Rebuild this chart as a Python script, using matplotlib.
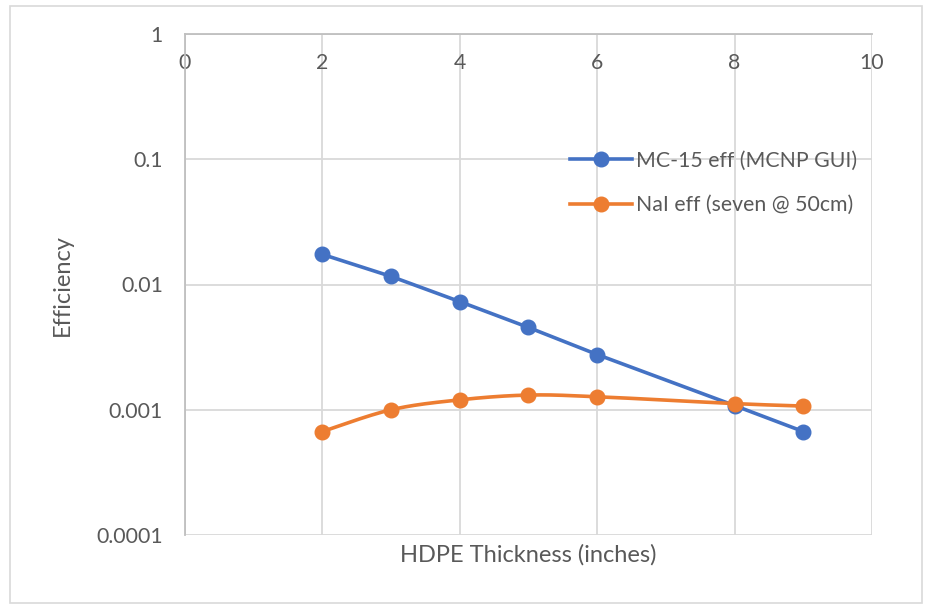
import numpy as np
import matplotlib.pyplot as plt
from matplotlib.patches import Rectangle

# ---------- data ----------
thickness = [2, 3, 4, 5, 6, 8, 9]
mc15_eff = [0.0174, 0.0116, 0.0073, 0.00454, 0.00276, 0.00108, 0.00067]
nai_eff = [0.00067, 0.00100, 0.00120, 0.00131, 0.00127, 0.00112, 0.00107]

x_ticks = [0, 2, 4, 6, 8, 10]
y_ticks = [0.0001, 0.001, 0.01, 0.1, 1]
y_tick_labels = ["0.0001", "0.001", "0.01", "0.1", "1"]

BLUE = "#4472C4"
ORANGE = "#ED7D31"
GRID = "#D9D9D9"
TEXT = "#595959"
FONT = "Lato"


def smooth_curve(x, y, n=40):
    """Excel-like smoothing: Catmull-Rom bezier in (x, log10 y) space."""
    pts = np.column_stack([np.asarray(x, float), np.log10(y)])
    padded = np.vstack([pts[0], pts, pts[-1]])
    out = []
    t = np.linspace(0, 1, n)[:, None]
    for i in range(len(pts) - 1):
        p0 = padded[i + 1]
        p3 = padded[i + 2]
        c1 = p0 + (padded[i + 2] - padded[i]) / 6.0
        c2 = p3 - (padded[i + 3] - padded[i + 1]) / 6.0
        seg = ((1 - t) ** 3) * p0 + 3 * ((1 - t) ** 2) * t * c1 \
            + 3 * (1 - t) * t ** 2 * c2 + t ** 3 * p3
        out.append(seg if i == 0 else seg[1:])
    out = np.vstack(out)
    return out[:, 0], 10 ** out[:, 1]


fig = plt.figure(figsize=(9.29, 6.05), dpi=100)
fig.patches.append(Rectangle((10 / 929, 1 - 603 / 605), 912 / 929, 597 / 605,
                             transform=fig.transFigure, fill=False,
                             edgecolor=GRID, linewidth=1.2))

ax = fig.add_axes([185 / 929, 1 - 535 / 605, 687 / 929, 501 / 605])
ax.set_yscale("log")
ax.set_xlim(0, 10)
ax.set_ylim(0.0001, 1)

ax.grid(True, which="major", color=GRID, linewidth=1.3)
ax.minorticks_off()
ax.set_axisbelow(True)

# --- series ---
ax.plot(thickness, mc15_eff, color=BLUE, linewidth=2.6, marker="o",
        markersize=10.5, label="MC-15 eff (MCNP GUI)", zorder=3)
sx, sy = smooth_curve(thickness, nai_eff)
ax.plot(sx, sy, color=ORANGE, linewidth=2.6, zorder=3)
ax.plot(thickness, nai_eff, color=ORANGE, linestyle="none", marker="o",
        markersize=10.5, zorder=4)
ax.plot([], [], color=ORANGE, linewidth=2.6, marker="o", markersize=10.5,
        label="NaI eff (seven @ 50cm)")

# --- axes styling (x labels sit just under the top axis line, as in Excel) ---
ax.xaxis.tick_top()
ax.set_xticks(x_ticks)
ax.set_yticks(y_ticks)
ax.set_yticklabels(y_tick_labels)
ax.tick_params(axis="both", length=0, labelsize=15.3, labelcolor=TEXT)
ax.tick_params(axis="x", pad=-28)
ax.tick_params(axis="y", pad=16)
for lab in ax.get_xticklabels() + ax.get_yticklabels():
    lab.set_fontfamily(FONT)

for side in ["right", "bottom"]:
    ax.spines[side].set_visible(False)
ax.spines["left"].set_color("#BFBFBF")
ax.spines["top"].set_color("#BFBFBF")
ax.spines["left"].set_linewidth(1.3)
ax.spines["top"].set_linewidth(1.3)

fig.text(528 / 929, 1 - 555 / 605, "HDPE Thickness (inches)",
         ha="center", va="center", fontsize=17, color=TEXT, family=FONT)
fig.text(62 / 929, 1 - 285 / 605, "Efficiency", rotation=90,
         ha="center", va="center", fontsize=17, color=TEXT, family=FONT)

leg = ax.legend(loc="upper left", bbox_to_anchor=(0.533, 0.805), frameon=False,
                handlelength=2.9, labelspacing=1.15, handletextpad=0.2,
                prop={"family": FONT, "size": 15.3})
for t in leg.get_texts():
    t.set_color(TEXT)

fig.savefig("out.png", dpi=100)
